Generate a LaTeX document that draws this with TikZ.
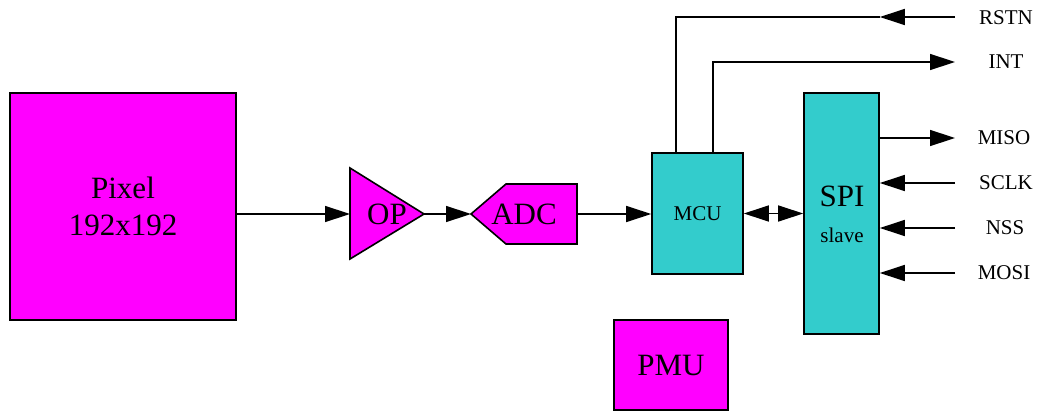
\documentclass[tikz,border=0pt]{standalone}
\usepackage{fontspec}
\setmainfont{Liberation Serif}
\usetikzlibrary{arrows.meta}
\definecolor{mag}{RGB}{255,0,255}
\definecolor{tealbox}{RGB}{51,204,204}
\begin{document}
\begin{tikzpicture}[x=1pt,y=-1pt,
  blk/.style={draw=black,line width=1.6pt,inner sep=0pt,align=center},
  bigtxt/.style={font=\fontsize{31}{37}\selectfont,inner sep=0pt,align=center},
  smalltxt/.style={font=\fontsize{21}{24}\selectfont,inner sep=0pt},
  wire/.style={line width=1.4pt},
  tip/.tip={Triangle[length=25pt,width=16pt]},
  arr/.style={wire,-tip},
  darr/.style={wire,tip-tip}]
\useasboundingbox (0,0) rectangle (1040,412);
% blocks
\node[blk,fill=mag,minimum width=226pt,minimum height=227pt,bigtxt] (pix) at (123,206.5) {Pixel\\192x192};
\draw[blk,fill=mag] (350,168) -- (424,214) -- (350,259) -- cycle;
\coordinate (opin) at (350,214);
\coordinate (opout) at (424,214);
\node[bigtxt] (op) at (387,214) {OP};
\draw[blk,fill=mag] (471,214) -- (506,184) -- (577,184) -- (577,244) -- (506,244) -- cycle;
\coordinate (adcin) at (471,214);
\coordinate (adcout) at (577,214);
\node[bigtxt] (adc) at (524,214) {ADC};
\node[blk,fill=tealbox,minimum width=91pt,minimum height=121pt,smalltxt] (mcu) at (697.5,213.5) {MCU};
\node[blk,fill=tealbox,minimum width=75pt,minimum height=241pt] (spi) at (841.5,213.5) {};
\node[bigtxt] (spit) at (842,196) {SPI};
\node[smalltxt] (spis) at (842,235) {slave};
\node[blk,fill=mag,minimum width=114pt,minimum height=90pt,bigtxt] (pmu) at (671,365) {PMU};
% labels
\node[smalltxt] (rstn) at (1006,17.5) {RSTN};
\node[smalltxt] (int) at (1006,62) {INT};
\node[smalltxt] (miso) at (1004,138) {MISO};
\node[smalltxt] (sclk) at (1006,183) {SCLK};
\node[smalltxt] (nss) at (1005,228) {NSS};
\node[smalltxt] (mosi) at (1004,273) {MOSI};
\coordinate (rstnend) at (955,17);
\coordinate (intend) at (955,62);
\coordinate (misoend) at (955,138);
\coordinate (sclkend) at (955,183);
\coordinate (nssend) at (955,228);
\coordinate (mosiend) at (955,273);
\coordinate (mcuA) at ([xshift=-21.5pt]mcu.north);
\coordinate (mcuB) at ([xshift=15.5pt]mcu.north);
% connectors
\draw[arr] (pix.east |- opin) -- (opin);
\draw[arr] (opout) -- (adcin);
\draw[arr] (adcout) -- (mcu.west |- adcout);
\draw[darr] (mcu.east) -- (spi.west);
\draw[arr] (rstnend) -- (spi.east |- rstnend);
\draw[wire] (spi.east |- rstnend) -| (mcuA);
\draw[arr] (mcuB) |- (intend);
\draw[arr] (spi.east |- misoend) -- (misoend);
\draw[arr] (sclkend) -- (spi.east |- sclkend);
\draw[arr] (nssend) -- (spi.east |- nssend);
\draw[arr] (mosiend) -- (spi.east |- mosiend);
\end{tikzpicture}
\end{document}
